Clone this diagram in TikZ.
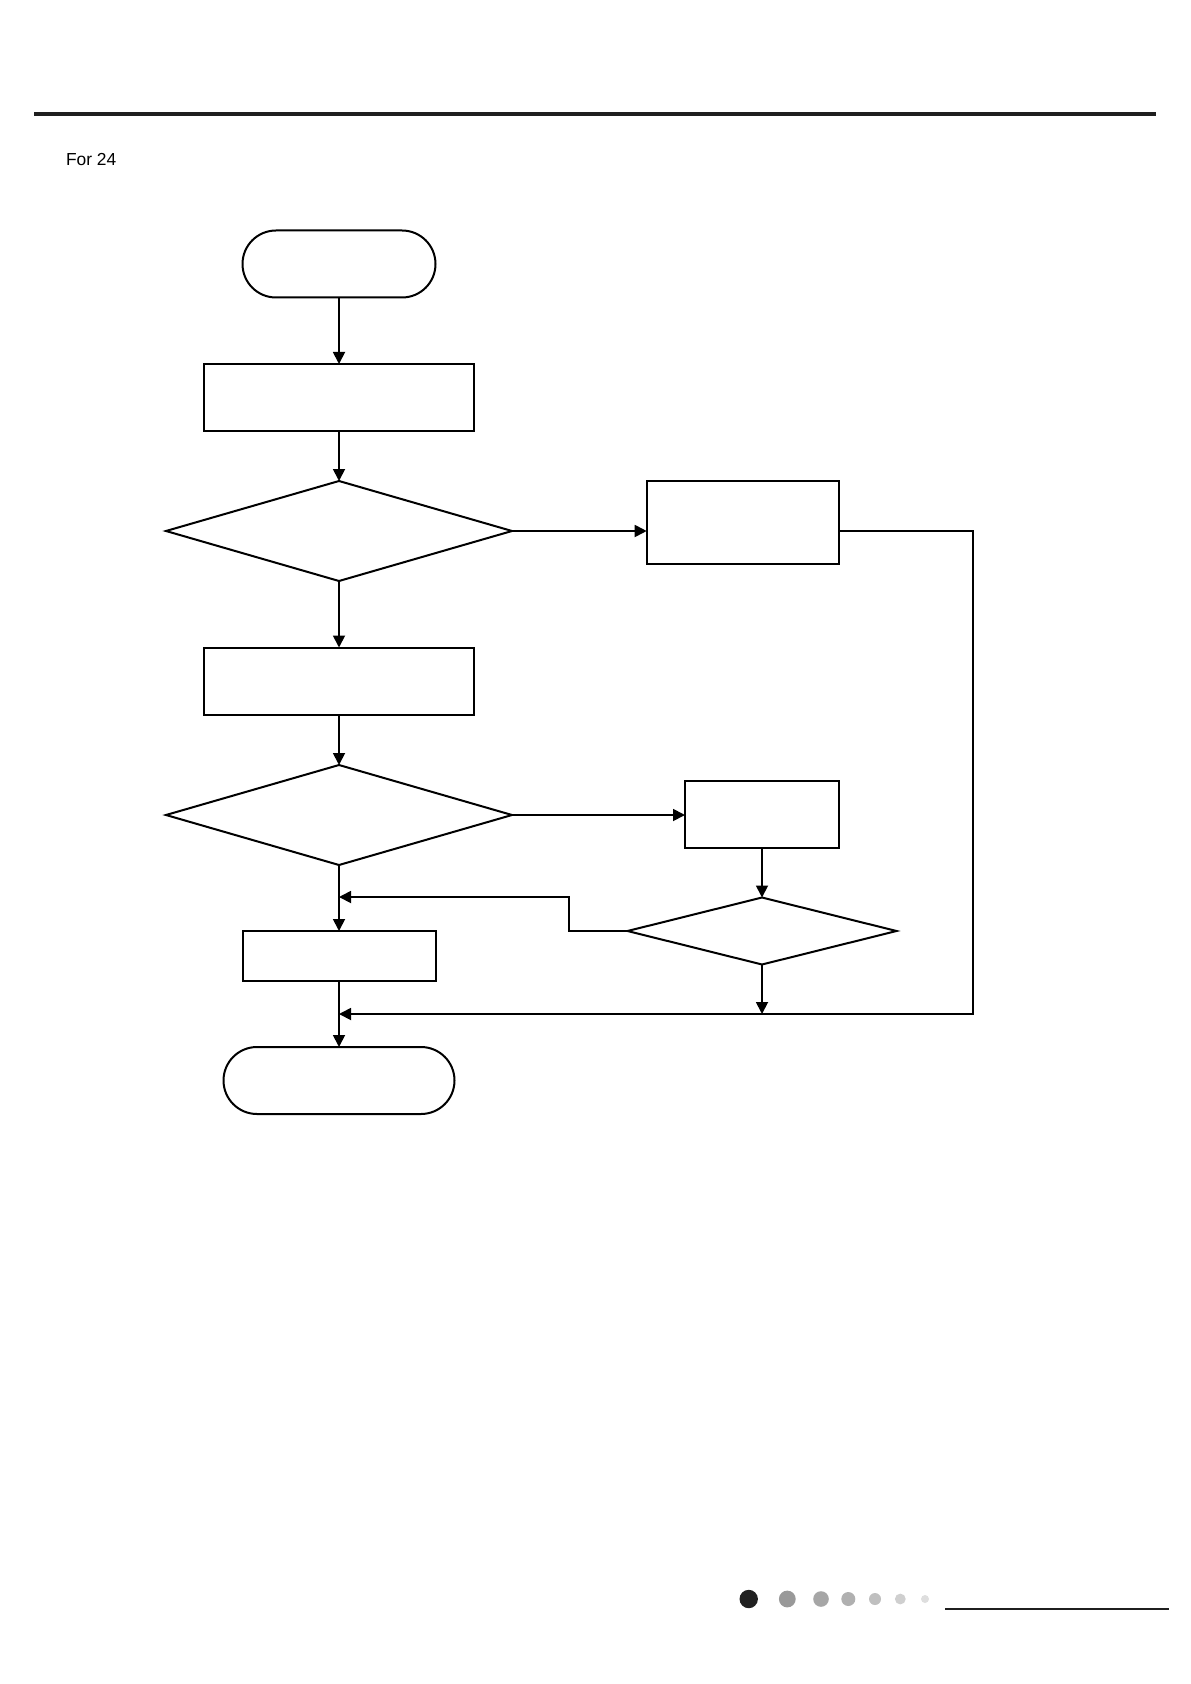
\documentclass[tikz,border=0pt]{standalone}
\usepackage{fontspec}
\setmainfont{Liberation Sans}
\usetikzlibrary{shapes.geometric,shapes.misc,arrows.meta}

\begin{document}
\begin{tikzpicture}[
        x=0.5pt, y=-0.5pt,
        every node/.style={inner sep=0pt, outer sep=0pt},
        termbox/.style={rounded rectangle, draw, line width=1pt},
        procbox/.style={rectangle, draw, line width=1pt},
        testbox/.style={diamond, draw, line width=1pt},
        flow/.style={line width=0.9pt, -{Triangle[length=6pt,width=6pt]}}
    ]
    \useasboundingbox (0,0) rectangle (1190,1684);

    % page header
    \draw[line width=2pt, black!88] (34,114.5) -- (1156,114.5);
    \node[anchor=base west, font=\fontsize{8.7}{11}\selectfont] (title) at (66,166) {For 24};

    % main column
    \node[termbox, minimum width=96.5pt, minimum height=33.5pt] (start) at (339,264) {};
    \node[procbox, minimum width=135pt, minimum height=33.5pt] (read) at (339,397.5) {};
    \node[testbox, minimum width=173pt, minimum height=50pt] (test1) at (339,531) {};
    \node[procbox, minimum width=135pt, minimum height=33.5pt] (check) at (339,681) {};
    \node[testbox, minimum width=173pt, minimum height=50pt] (test2) at (339,815) {};
    \node[procbox, minimum width=96.5pt, minimum height=25pt] (act) at (339,956) {};
    \node[termbox, minimum width=115.5pt, minimum height=33.5pt] (stop) at (339,1080.5) {};

    % side branches
    \node[procbox, minimum width=96pt, minimum height=41.5pt] (side1) at (742.7,522.5) {};
    \node[procbox, minimum width=77pt, minimum height=33.5pt] (side2) at (762,814) {};
    \node[testbox, minimum width=134.5pt, minimum height=33.5pt] (test3) at (762,931) {};

    \coordinate (bend) at (569,897);
    \coordinate (corner) at (973,1014);

    \draw[flow] (start) -- (read);
    \draw[flow] (read) -- (test1);
    \draw[flow] (test1) -- (check);
    \draw[flow] (check) -- (test2);
    \draw[flow] (test2) -- (act);
    \draw[flow] (act) -- (stop);
    \draw[flow] (test1.east) -- (test1.east -| side1.west);
    \draw[flow] (test2.east) -- (test2.east -| side2.west);
    \draw[flow] (side2) -- (test3);
    \draw[flow] (test3.west) -| (bend) -- (bend -| act.north);
    \draw[flow] (test3.south) -- (test3.south |- corner);
    \draw[flow] (test1.east -| side1.east) -| (corner) -- (corner -| stop.north);

    % page footer
    \foreach \px/\r/\tone in {748.7/4.6pt/87, 787.3/4.2pt/40, 821/3.9pt/35,
            848.3/3.5pt/31, 875/3pt/25, 900.3/2.7pt/19, 925/2pt/13}
        \fill[black!\tone] (\px,1599) circle[radius=\r];
    \draw[line width=1pt, black!88] (945,1608.7) -- (1169,1608.7);
\end{tikzpicture}
\end{document}
